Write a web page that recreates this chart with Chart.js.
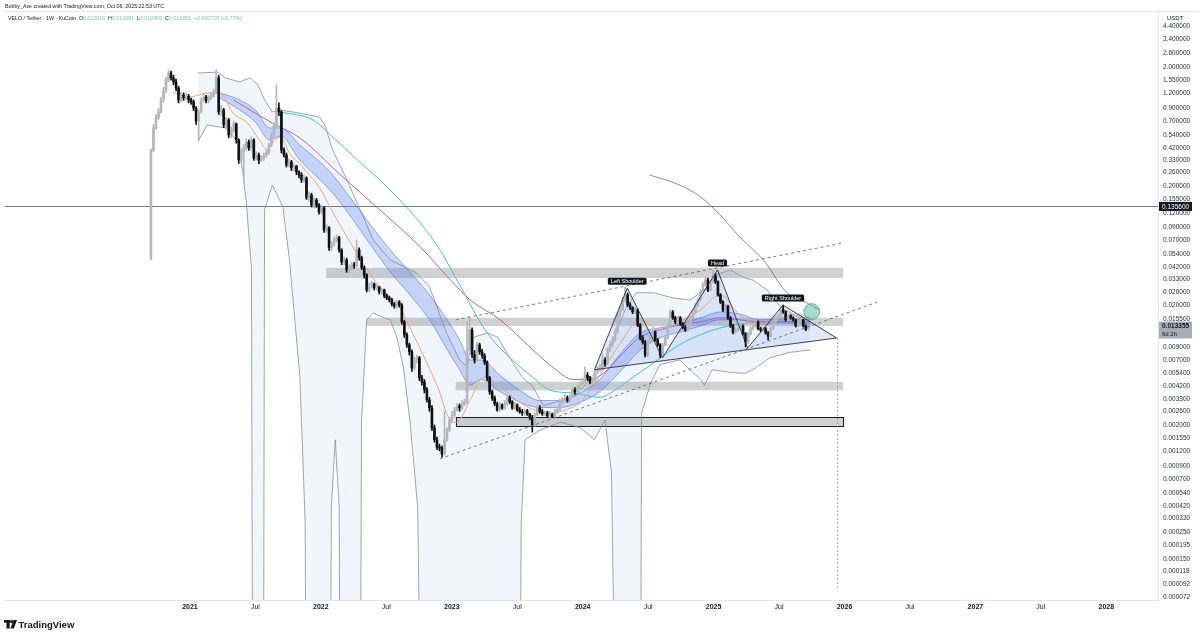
<!DOCTYPE html>
<html>
<head>
<meta charset="utf-8">
<title>VELO / Tether · 1W · KuCoin</title>
<script src="https://cdn.jsdelivr.net/npm/chart.js@4.4.1/dist/chart.umd.min.js"></script>
<style>
html, body { margin: 0; padding: 0; background: #fff; }
canvas { display: block; }
</style>
</head>
<body>
<canvas id="chart" width="1200" height="637"></canvas>
<script>
// weekly candles (x = decimal year of the week start)
var firstWeek = 2020.702;
var weekLen = 7 / 365.25;
var firstOpen = 0.05;

var closes = [
  0.403, 0.617, 0.748, 0.84, 1.06, 1.28, 1.56, 1.78, 1.62, 1.50,
  1.33, 1.06, 1.165, 1.10, 1.14, 1.06, 1.02, 0.905, 0.705, 0.84,
  1.06, 1.12, 1.04, 1.10, 1.165, 1.23, 1.62, 0.84, 0.872, 0.653,
  0.719, 0.538, 0.593, 0.666, 0.489, 0.332, 0.388, 0.419, 0.47, 0.419,
  0.489, 0.345, 0.366, 0.332, 0.345, 0.366, 0.388, 0.444, 0.538, 0.64,
  0.905, 0.84, 0.403, 0.366, 0.302, 0.32, 0.285, 0.296, 0.264, 0.249,
  0.226, 0.235, 0.16, 0.169, 0.139, 0.1535, 0.139, 0.122, 0.132, 0.0861,
  0.0895, 0.061, 0.0658, 0.071, 0.0738, 0.0585, 0.0465, 0.0483, 0.0398, 0.0414,
  0.0438, 0.043, 0.0585, 0.0502, 0.0414, 0.0361, 0.027, 0.0292, 0.0304, 0.0281,
  0.0287, 0.026, 0.027, 0.0241, 0.0232, 0.0223, 0.0206, 0.0198, 0.0214, 0.0202,
  0.0146, 0.01135, 0.00936, 0.0082, 0.006, 0.007, 0.0073, 0.00495, 0.00458, 0.00393,
  0.00324, 0.00277, 0.00189, 0.0015, 0.0013, 0.00128, 0.00114, 0.0015, 0.00181, 0.0022,
  0.00242, 0.00267, 0.00288, 0.00277, 0.003, 0.00312, 0.0085, 0.0125, 0.00772, 0.007,
  0.00936, 0.0082, 0.0076, 0.0067, 0.00495, 0.00378, 0.00337, 0.003, 0.00267, 0.00294,
  0.00277, 0.003, 0.00337, 0.00312, 0.00277, 0.00294, 0.00267, 0.00257, 0.00252, 0.00262,
  0.00247, 0.00229, 0.002, 0.00242, 0.00277, 0.00257, 0.00247, 0.00252, 0.00238, 0.00247,
  0.00233, 0.00257, 0.00267, 0.00312, 0.00324, 0.00337, 0.00318, 0.00343, 0.00393, 0.00378,
  0.00408, 0.0044, 0.00458, 0.00524, 0.00495, 0.00458, 0.00476, 0.00556, 0.00578, 0.006,
  0.007, 0.0065, 0.0085, 0.00936, 0.0103, 0.012, 0.01669, 0.01838, 0.0223, 0.0246,
  0.0202, 0.0191, 0.0177, 0.01838, 0.01377, 0.0107, 0.0099, 0.00772, 0.0099, 0.0107,
  0.012, 0.0103, 0.00936, 0.00772, 0.00936, 0.0107, 0.01377, 0.0177, 0.0158, 0.0146,
  0.0158, 0.014, 0.0132, 0.0125, 0.014, 0.0158, 0.0177, 0.0202, 0.0223, 0.026,
  0.0298, 0.0328, 0.027, 0.0316, 0.0354, 0.0316, 0.0246, 0.0214, 0.01838, 0.0198,
  0.0158, 0.0135, 0.012, 0.0125, 0.0128, 0.0135, 0.0116, 0.0099, 0.0116, 0.0128,
  0.0135, 0.0146, 0.0128, 0.0125, 0.0128, 0.0118, 0.0111, 0.0128, 0.0146, 0.0158,
  0.0164, 0.01838, 0.0177, 0.01516, 0.0164, 0.0158, 0.01516, 0.0135, 0.0146, 0.01516,
  0.0135, 0.012626, 0.013355
];

var highs = [
  0.41, 0.66, 0.80, 0.90, 1.12, 1.35, 1.65, 1.89, 1.85, 1.70,
  1.58, 1.38, 1.22, 1.22, 1.20, 1.18, 1.10, 1.06, 0.93, 0.87,
  1.10, 1.18, 1.16, 1.15, 1.22, 1.30, 1.89, 1.70, 0.95, 0.90,
  0.76, 0.74, 0.63, 0.70, 0.68, 0.50, 0.41, 0.45, 0.50, 0.49,
  0.52, 0.50, 0.39, 0.38, 0.36, 0.38, 0.40, 0.46, 0.56, 0.68,
  1.41, 1.0, 0.86, 0.42, 0.38, 0.34, 0.33, 0.31, 0.30, 0.27,
  0.26, 0.25, 0.24, 0.18, 0.175, 0.16, 0.158, 0.143, 0.137, 0.135,
  0.095, 0.092, 0.069, 0.075, 0.078, 0.076, 0.06, 0.051, 0.05, 0.044,
  0.046, 0.046, 0.071, 0.061, 0.052, 0.043, 0.037, 0.031, 0.032, 0.031,
  0.030, 0.029, 0.028, 0.0275, 0.025, 0.024, 0.023, 0.0212, 0.0222, 0.022,
  0.0208, 0.015, 0.0118, 0.0097, 0.0085, 0.0074, 0.0077, 0.0075, 0.0052, 0.0048,
  0.0041, 0.0034, 0.0029, 0.0020, 0.00158, 0.00138, 0.00133, 0.0026, 0.0019, 0.0023,
  0.0026, 0.0028, 0.0030, 0.0030, 0.0032, 0.0033, 0.0146, 0.0158, 0.0130, 0.0084,
  0.0099, 0.0097, 0.0086, 0.0079, 0.0069, 0.0051, 0.0039, 0.0035, 0.0031, 0.0031,
  0.0030, 0.0032, 0.0035, 0.0035, 0.0032, 0.0031, 0.0030, 0.0028, 0.0027, 0.0027,
  0.0027, 0.0025, 0.0024, 0.0025, 0.0029, 0.0029, 0.0027, 0.0026, 0.0026, 0.0026,
  0.0025, 0.0027, 0.0028, 0.0033, 0.0034, 0.0036, 0.0035, 0.0036, 0.0041, 0.0041,
  0.0043, 0.0046, 0.0049, 0.0061, 0.0055, 0.0051, 0.0050, 0.0058, 0.0062, 0.0064,
  0.0079, 0.0073, 0.0089, 0.0100, 0.0110, 0.0128, 0.0175, 0.0196, 0.0236, 0.0287,
  0.0255, 0.0212, 0.0196, 0.0192, 0.0188, 0.0141, 0.0112, 0.0102, 0.0103, 0.0112,
  0.0125, 0.0123, 0.0106, 0.0096, 0.0097, 0.0112, 0.0143, 0.0185, 0.0182, 0.0163,
  0.0164, 0.0162, 0.0144, 0.0136, 0.0145, 0.0164, 0.0184, 0.0210, 0.0232, 0.0272,
  0.0312, 0.0345, 0.0340, 0.0330, 0.0398, 0.0370, 0.0322, 0.0252, 0.0220, 0.0205,
  0.0202, 0.0162, 0.0139, 0.0131, 0.0133, 0.0140, 0.0138, 0.0119, 0.0120, 0.0133,
  0.0140, 0.0152, 0.0149, 0.0132, 0.0133, 0.0131, 0.0121, 0.0132, 0.0150, 0.0163,
  0.0170, 0.0190, 0.0202, 0.0180, 0.0169, 0.0168, 0.0161, 0.0154, 0.0150, 0.0156,
  0.0154, 0.0138, 0.013681
];

var lows = [
  0.048, 0.39, 0.60, 0.72, 0.82, 1.02, 1.22, 1.50, 1.55, 1.42,
  1.26, 1.00, 1.02, 1.05, 1.06, 1.00, 0.97, 0.86, 0.66, 0.49,
  0.82, 1.02, 1.00, 1.00, 1.06, 1.12, 1.20, 0.80, 0.78, 0.62,
  0.62, 0.51, 0.51, 0.57, 0.46, 0.31, 0.31, 0.213, 0.40, 0.40,
  0.40, 0.33, 0.33, 0.31, 0.32, 0.33, 0.35, 0.37, 0.43, 0.52,
  0.62, 0.78, 0.38, 0.35, 0.29, 0.29, 0.27, 0.27, 0.25, 0.235,
  0.215, 0.215, 0.155, 0.15, 0.134, 0.132, 0.133, 0.117, 0.118, 0.082,
  0.082, 0.058, 0.058, 0.063, 0.068, 0.056, 0.044, 0.044, 0.038, 0.038,
  0.040, 0.041, 0.042, 0.048, 0.040, 0.034, 0.026, 0.026, 0.028, 0.027,
  0.027, 0.025, 0.025, 0.0232, 0.0224, 0.0215, 0.0198, 0.019, 0.019, 0.0194,
  0.014, 0.0108, 0.0089, 0.0077, 0.0056, 0.0058, 0.0066, 0.0047, 0.0043, 0.0037,
  0.0031, 0.0026, 0.0018, 0.00143, 0.00124, 0.00121, 0.00107, 0.00111, 0.00145, 0.00175,
  0.0021, 0.0023, 0.0026, 0.0026, 0.0027, 0.0029, 0.0030, 0.0080, 0.0073, 0.0066,
  0.0068, 0.0078, 0.0072, 0.0064, 0.0047, 0.0036, 0.0032, 0.0029, 0.0026, 0.0026,
  0.0027, 0.0027, 0.0029, 0.0030, 0.0027, 0.0027, 0.0026, 0.0025, 0.0024, 0.0024,
  0.0024, 0.0022, 0.00174, 0.00195, 0.0024, 0.0025, 0.0024, 0.0024, 0.0023, 0.0023,
  0.0023, 0.0023, 0.0025, 0.0026, 0.0030, 0.0031, 0.0031, 0.0031, 0.0034, 0.0036,
  0.0037, 0.0040, 0.0043, 0.0045, 0.0047, 0.0044, 0.0044, 0.0046, 0.0054, 0.0056,
  0.0058, 0.0062, 0.0064, 0.0082, 0.0090, 0.0100, 0.0117, 0.0160, 0.0180, 0.0215,
  0.0196, 0.0185, 0.0171, 0.0172, 0.0133, 0.0103, 0.0095, 0.0074, 0.0075, 0.0096,
  0.0104, 0.0100, 0.0091, 0.0073, 0.0075, 0.0092, 0.0105, 0.0135, 0.0153, 0.0141,
  0.0142, 0.0136, 0.0128, 0.0121, 0.0122, 0.0137, 0.0154, 0.0172, 0.0196, 0.0218,
  0.0254, 0.0290, 0.0262, 0.0265, 0.0310, 0.0305, 0.0240, 0.0208, 0.0178, 0.0179,
  0.0153, 0.0131, 0.0116, 0.0117, 0.0121, 0.0125, 0.0113, 0.0090, 0.0096, 0.0113,
  0.0125, 0.0132, 0.0125, 0.0121, 0.0122, 0.0115, 0.0103, 0.0109, 0.0126, 0.0143,
  0.0155, 0.0161, 0.0172, 0.0148, 0.0149, 0.0154, 0.0148, 0.0132, 0.0133, 0.0143,
  0.0132, 0.0123, 0.012459
];

// Bollinger bands (upper / lower)
var bbUpX = [2021.06, 2021.21, 2021.27, 2021.38, 2021.46, 2021.52, 2021.57, 2021.63, 2021.69, 2021.84,
  2021.99, 2022.03, 2022.09, 2022.20, 2022.30, 2022.40, 2022.53, 2022.73, 2022.83, 2022.96,
  2023.06, 2023.12, 2023.15, 2023.27, 2023.35, 2023.44, 2023.54, 2023.62, 2023.70, 2023.83,
  2023.96, 2024.03, 2024.16, 2024.26, 2024.34, 2024.41, 2024.54, 2024.69, 2024.82, 2024.93,
  2025.01, 2025.13, 2025.24, 2025.30, 2025.41, 2025.51, 2025.64, 2025.74];
var bbUpY = [1.78, 1.81, 1.62, 1.50, 1.62, 1.41, 1.06, 0.84, 0.872, 0.82,
  0.76, 0.653, 0.403, 0.226, 0.127, 0.071, 0.0483, 0.0376, 0.0287, 0.0118,
  0.0070, 0.0061, 0.0107, 0.0118, 0.0109, 0.0074, 0.005, 0.0042, 0.0029, 0.0032,
  0.0036, 0.0045, 0.0066, 0.0125, 0.0202, 0.0256, 0.0256, 0.0232, 0.0223, 0.027,
  0.0361, 0.0398, 0.034, 0.0328, 0.027, 0.0195, 0.016, 0.0158];
// 0.000001 = band below the bottom of the scale
var bbLoX = [2021.06, 2021.13, 2021.27, 2021.37, 2021.40, 2021.43, 2021.47, 2021.48, 2021.56, 2021.57,
  2021.63, 2021.71, 2021.76, 2021.84, 2021.88, 2021.89, 2022.07, 2022.08, 2022.11, 2022.14,
  2022.15, 2022.30, 2022.31, 2022.35, 2022.40, 2022.47, 2022.53, 2022.58, 2022.63, 2022.68,
  2022.74, 2022.77, 2023.52, 2023.53, 2023.56, 2023.67, 2023.83, 2023.98, 2024.09, 2024.17,
  2024.22, 2024.26, 2024.44, 2024.45, 2024.52, 2024.59, 2024.74, 2024.90, 2024.93, 2024.99,
  2025.13, 2025.24, 2025.32, 2025.43, 2025.58, 2025.74];
var bbLoY = [0.47, 0.653, 0.617, 0.462, 0.274, 0.15, 0.04, 0.000001, 0.000001, 0.127,
  0.205, 0.134, 0.0483, 0.005, 0.0003, 0.000001, 0.000001, 0.0004, 0.0015, 0.0004,
  0.000001, 0.000001, 0.002, 0.0152, 0.0173, 0.016, 0.0152, 0.0109, 0.0061, 0.0022,
  0.0004, 0.000001, 0.000001, 0.00029, 0.0015, 0.0018, 0.0021, 0.0019, 0.0015, 0.0022,
  0.0008, 0.000001, 0.000001, 0.0025, 0.0045, 0.0064, 0.0070, 0.0048, 0.0043, 0.0058,
  0.0055, 0.0054, 0.006, 0.0073, 0.0081, 0.0085];

// moving averages
var orangeX = [2020.87, 2021.00, 2021.13, 2021.23, 2021.33, 2021.44, 2021.53, 2021.59, 2021.63, 2021.69,
  2021.76, 2021.86, 2021.99, 2022.09, 2022.20, 2022.32, 2022.45, 2022.60, 2022.70, 2022.81,
  2022.91, 2022.96, 2023.01, 2023.06, 2023.14, 2023.24, 2023.37, 2023.50, 2023.62, 2023.75,
  2023.88, 2024.00, 2024.13, 2024.28, 2024.44, 2024.59, 2024.74, 2024.90, 2025.05, 2025.20,
  2025.35, 2025.51, 2025.66, 2025.74];
var orangeY = [1.23, 1.12, 1.21, 1.21, 0.82, 0.677, 0.489, 0.403, 0.462, 0.518,
  0.38, 0.29, 0.194, 0.122, 0.0752, 0.0456, 0.0287, 0.0195, 0.0118, 0.0066,
  0.0037, 0.0025, 0.0021, 0.0022, 0.0032, 0.005, 0.0042, 0.0032, 0.0027, 0.0025,
  0.0027, 0.0032, 0.0052, 0.0094, 0.0152, 0.0125, 0.0146, 0.0184, 0.0246, 0.0167,
  0.0138, 0.0158, 0.0167, 0.0158];

var bandX = [2021.23, 2021.38, 2021.50, 2021.61, 2021.69, 2021.84, 2022.07, 2022.22, 2022.38, 2022.53,
  2022.68, 2022.83, 2022.99, 2023.06, 2023.14, 2023.22, 2023.37, 2023.52, 2023.67, 2023.83,
  2023.98, 2024.13, 2024.28, 2024.44, 2024.59, 2024.74, 2024.90, 2025.05, 2025.20, 2025.35,
  2025.51, 2025.74];
var bandTop = [1.21, 1.06, 0.872, 0.617, 0.617, 0.444, 0.264, 0.163, 0.0948, 0.0585,
  0.0383, 0.0246, 0.0138, 0.0103, 0.0070, 0.0070, 0.0052, 0.0039, 0.0032, 0.0032,
  0.0037, 0.0048, 0.0077, 0.0118, 0.013, 0.014, 0.0158, 0.0177, 0.017, 0.0152,
  0.0155, 0.0152];
var bandBot = [1.10, 0.872, 0.69, 0.489, 0.528, 0.332, 0.186, 0.115, 0.0645, 0.0383,
  0.0246, 0.0152, 0.0077, 0.0058, 0.0043, 0.0048, 0.0038, 0.0031, 0.0028, 0.0028,
  0.0031, 0.0038, 0.0055, 0.0085, 0.0107, 0.012, 0.0135, 0.0152, 0.0152, 0.0138,
  0.0143, 0.014];

var purpleX = [2021.33, 2021.63, 2021.84, 2022.15, 2022.45, 2022.76, 2022.99, 2023.14, 2023.37, 2023.62,
  2023.77, 2023.93, 2024.06, 2024.19, 2024.28, 2024.44, 2024.59, 2024.74, 2024.90, 2025.05,
  2025.20, 2025.35, 2025.51, 2025.74];
var purpleY = [1.06, 0.677, 0.508, 0.249, 0.127, 0.062, 0.0328, 0.0223, 0.0152, 0.0085,
  0.0061, 0.0048, 0.0048, 0.0058, 0.0074, 0.0109, 0.0125, 0.0138, 0.0146, 0.0158,
  0.0152, 0.0146, 0.0146, 0.0146];

var tealX = [2021.69, 2021.94, 2022.09, 2022.28, 2022.45, 2022.58, 2022.76, 2022.91, 2023.06, 2023.27,
  2023.44, 2023.62, 2023.75, 2023.93, 2024.13, 2024.23, 2024.36, 2024.54, 2024.74, 2025.00,
  2025.26, 2025.51, 2025.74];
var tealY = [0.84, 0.719, 0.518, 0.332, 0.226, 0.163, 0.0985, 0.0585, 0.0298, 0.0118,
  0.0074, 0.005, 0.0039, 0.0037, 0.0034, 0.0038, 0.0048, 0.0066, 0.0094, 0.0125,
  0.0143, 0.0146, 0.0146];

// falling grey line on the right
var fallX = [2024.51, 2024.74, 2024.90, 2025.05, 2025.20, 2025.32, 2025.41, 2025.51, 2025.58, 2025.70, 2025.81];
var fallY = [0.249, 0.205, 0.163, 0.115, 0.0752, 0.0564, 0.0438, 0.0298, 0.0246, 0.0214, 0.0184];

// drawings
var zoneFrom = [2022.04, 2022.35, 2023.03, 2023.03];
var zoneTo = [2025.99, 2025.99, 2025.99, 2025.99];
var zoneHi = [0.0414, 0.0158, 0.0046, 0.00233];
var zoneLo = [0.034, 0.0135, 0.0039, 0.00196];
var upperTrendX = [2023.03, 2025.99];
var upperTrendY = [0.0152, 0.067];
var lowerTrendX = [2022.91, 2026.25];
var lowerTrendY = [0.00104, 0.0214];
var hsX = [2024.09, 2024.34, 2024.61, 2025.03, 2025.26, 2025.53, 2025.94];
var hsY = [0.0058, 0.028, 0.0073, 0.0398, 0.0088, 0.0202, 0.0107];
var hsLabels = ['', 'Left Shoulder', '', 'Head', '', 'Right Shoulder', ''];
var levelPrice = 0.1356;
var projectionLow = 0.000082;
var circleX = 2025.75;
var circleY = 0.0178;
var lastPrice = 0.013355;

// axis ticks
var yTicks = [4.4, 3.4, 2.6, 2.0, 1.55, 1.2, 0.9, 0.7, 0.54, 0.42, 0.33, 0.26, 0.2, 0.155, 0.12,
  0.09, 0.07, 0.054, 0.042, 0.033, 0.026, 0.02, 0.0155, 0.009, 0.007, 0.0054, 0.0042, 0.0033,
  0.0026, 0.002, 0.00155, 0.0012, 0.0009, 0.0007, 0.00054, 0.00042, 0.00033, 0.00025, 0.000195,
  0.00015, 0.000118, 0.000092, 0.000072];
var xTicks = [2021, 2021.5, 2022, 2022.5, 2023, 2023.5, 2024, 2024.5, 2025, 2025.5, 2026, 2026.5, 2027, 2027.5, 2028];
var xLabels = ['2021', 'Jul', '2022', 'Jul', '2023', 'Jul', '2024', 'Jul', '2025', 'Jul', '2026', 'Jul', '2027', 'Jul', '2028'];

var FONT = "'Liberation Sans', Arial, sans-serif";
var UP = '#b4b6bc';
var DOWN = '#111111';

var weeks = closes.map(function (c, i) { return firstWeek + i * weekLen; });
var opens = closes.map(function (c, i) { return i === 0 ? firstOpen : closes[i - 1]; });

function pts(xs, ys) {
    return xs.map(function (x, i) { return { x: x, y: ys[i] }; });
}
function candleColor(ctx) {
    var i = ctx.dataIndex;
    return closes[i] >= opens[i] ? UP : DOWN;
}
function maLine(label, xs, ys, color, order) {
    return {
        type: 'line', label: label, data: pts(xs, ys), borderColor: color, borderWidth: 1,
        pointRadius: 0, cubicInterpolationMode: 'monotone', fill: false, order: order
    };
}

var datasets = [
    {
        type: 'bar', label: 'body', order: 0, grouped: false, barThickness: 2, minBarLength: 1,
        data: weeks.map(function (t, i) { return { x: t, y: [opens[i], closes[i]] }; }),
        backgroundColor: candleColor, borderWidth: 0
    },
    {
        type: 'bar', label: 'wick', order: 1, grouped: false, barThickness: 1,
        data: weeks.map(function (t, i) { return { x: t, y: [lows[i], highs[i]] }; }),
        backgroundColor: candleColor, borderWidth: 0
    },
    maLine('orange', orangeX, orangeY, '#f0a468', 2),
    maLine('purple', purpleX, purpleY, '#b35ec4', 3),
    maLine('teal', tealX, tealY, '#3fc3d2', 4),
    {
        type: 'line', label: 'band top', data: pts(bandX, bandTop), borderColor: 'rgba(74,110,214,0.7)',
        borderWidth: 0.8, pointRadius: 0, cubicInterpolationMode: 'monotone',
        fill: '+1', backgroundColor: 'rgba(88,128,232,0.3)', order: 5
    },
    {
        type: 'line', label: 'band bottom', data: pts(bandX, bandBot), borderColor: 'rgba(74,110,214,0.7)',
        borderWidth: 0.8, pointRadius: 0, cubicInterpolationMode: 'monotone', fill: false, order: 6
    },
    {
        type: 'line', label: 'fall', data: pts(fallX, fallY), borderColor: '#6b6e76',
        borderWidth: 0.8, pointRadius: 0, cubicInterpolationMode: 'monotone', fill: false, order: 7
    },
    {
        type: 'line', label: 'bb upper', data: pts(bbUpX, bbUpY), borderColor: '#8b8e96',
        borderWidth: 0.8, pointRadius: 0, tension: 0,
        fill: '+1', backgroundColor: 'rgba(41,120,230,0.065)', order: 8
    },
    {
        type: 'line', label: 'bb lower', data: pts(bbLoX, bbLoY), borderColor: '#8b8e96',
        borderWidth: 0.8, pointRadius: 0, tension: 0, fill: false, order: 9
    }
];

// drawings, header, price tags and logo
var drawings = {
    id: 'drawings',
    beforeDatasetsDraw: function (chart) {
        var ctx = chart.ctx, a = chart.chartArea;
        var px = function (v) { return chart.scales.x.getPixelForValue(v); };
        var py = function (v) { return chart.scales.y.getPixelForValue(v); };
        ctx.save();
        ctx.beginPath();
        ctx.rect(a.left, a.top, a.right - a.left, a.bottom - a.top);
        ctx.clip();

        // grey zones
        for (var i = 0; i < zoneFrom.length; i++) {
            var x0 = px(zoneFrom[i]), x1 = px(zoneTo[i]);
            var y0 = py(zoneHi[i]), y1 = py(zoneLo[i]);
            ctx.fillStyle = 'rgba(140,140,140,0.4)';
            ctx.fillRect(x0, y0, x1 - x0, y1 - y0);
            if (i === 3) {
                ctx.strokeStyle = '#1a1a1a';
                ctx.lineWidth = 1;
                ctx.strokeRect(Math.round(x0) + 0.5, Math.round(y0) + 0.5, Math.round(x1 - x0), Math.round(y1 - y0));
            }
        }

        // head & shoulders area
        ctx.beginPath();
        hsX.forEach(function (x, k) {
            if (k === 0) ctx.moveTo(px(x), py(hsY[k])); else ctx.lineTo(px(x), py(hsY[k]));
        });
        ctx.closePath();
        ctx.fillStyle = 'rgba(110,150,225,0.2)';
        ctx.fill();

        // horizontal level
        ctx.strokeStyle = '#7a7d85';
        ctx.lineWidth = 1;
        ctx.beginPath();
        var ly = Math.round(py(levelPrice)) + 0.5;
        ctx.moveTo(a.left, ly);
        ctx.lineTo(a.right, ly);
        ctx.stroke();
        ctx.restore();
    },
    afterDatasetsDraw: function (chart) {
        var ctx = chart.ctx, a = chart.chartArea;
        var px = function (v) { return chart.scales.x.getPixelForValue(v); };
        var py = function (v) { return chart.scales.y.getPixelForValue(v); };
        ctx.save();
        ctx.beginPath();
        ctx.rect(a.left, a.top, a.right - a.left, a.bottom - a.top);
        ctx.clip();

        // dashed trend lines
        ctx.strokeStyle = '#555860';
        ctx.lineWidth = 0.8;
        ctx.setLineDash([3, 3]);
        [[upperTrendX, upperTrendY], [lowerTrendX, lowerTrendY]].forEach(function (t) {
            ctx.beginPath();
            ctx.moveTo(px(t[0][0]), py(t[1][0]));
            ctx.lineTo(px(t[0][1]), py(t[1][1]));
            ctx.stroke();
        });
        // projection down from the pattern end
        ctx.strokeStyle = '#9a9da5';
        ctx.setLineDash([2, 2]);
        ctx.beginPath();
        var vx = Math.round(px(hsX[6])) + 0.5;
        ctx.moveTo(vx, py(hsY[6]));
        ctx.lineTo(vx, py(projectionLow));
        ctx.stroke();
        ctx.setLineDash([]);

        // head & shoulders outline
        ctx.strokeStyle = '#2b2e36';
        ctx.lineWidth = 0.9;
        ctx.beginPath();
        hsX.forEach(function (x, k) {
            if (k === 0) ctx.moveTo(px(x), py(hsY[k])); else ctx.lineTo(px(x), py(hsY[k]));
        });
        ctx.stroke();
        ctx.beginPath();
        ctx.moveTo(px(hsX[0]), py(hsY[0]));
        ctx.lineTo(px(hsX[6]), py(hsY[6]));
        ctx.stroke();

        // labels
        ctx.font = '5.5px ' + FONT;
        ctx.textAlign = 'center';
        ctx.textBaseline = 'middle';
        hsLabels.forEach(function (txt, k) {
            if (!txt) return;
            var cx = px(hsX[k]), cy = py(hsY[k]) - 7;
            var w = ctx.measureText(txt).width + 6;
            ctx.fillStyle = '#131722';
            ctx.beginPath();
            ctx.roundRect(cx - w / 2, cy - 3.5, w, 7, 1.5);
            ctx.fill();
            ctx.fillStyle = '#ffffff';
            ctx.fillText(txt, cx, cy + 0.3);
        });

        // green circle
        ctx.beginPath();
        ctx.arc(px(circleX), py(circleY), 8, 0, Math.PI * 2);
        ctx.fillStyle = 'rgba(92,190,160,0.55)';
        ctx.fill();
        ctx.strokeStyle = 'rgba(60,170,140,0.9)';
        ctx.lineWidth = 0.8;
        ctx.stroke();
        ctx.restore();
    },
    afterDraw: function (chart) {
        var ctx = chart.ctx, a = chart.chartArea;
        var py = function (v) { return chart.scales.y.getPixelForValue(v); };
        ctx.save();

        // frame
        ctx.strokeStyle = '#e3e5ea';
        ctx.lineWidth = 1;
        ctx.beginPath();
        ctx.moveTo(a.left, a.top - 0.5);
        ctx.lineTo(1199, a.top - 0.5);
        ctx.stroke();

        // header
        ctx.textAlign = 'left';
        ctx.textBaseline = 'middle';
        ctx.fillStyle = '#131722';
        ctx.font = '5.3px ' + FONT;
        ctx.fillText('Bobby_Ave created with TradingView.com, Oct 06, 2025 22:53 UTC', 5, 6.5);

        var parts = [
            ['VELO / Tether · 1W · KuCoin  ', '#131722'],
            ['O', '#131722'], ['0.012616  ', '#7cc6b2'],
            ['H', '#131722'], ['0.013681  ', '#7cc6b2'],
            ['L', '#131722'], ['0.012459  ', '#7cc6b2'],
            ['C', '#131722'], ['0.013355  ', '#7cc6b2'],
            ['+0.000729 (+5.77%)', '#7cc6b2']
        ];
        var hx = 8;
        parts.forEach(function (p) {
            ctx.fillStyle = p[1];
            ctx.fillText(p[0], hx, 19);
            hx += ctx.measureText(p[0]).width;
        });
        ctx.fillStyle = '#131722';
        ctx.font = '6px ' + FONT;
        ctx.fillText('USDT', 1167, 18);

        // level tag
        var ly = py(levelPrice);
        ctx.fillStyle = '#131722';
        ctx.fillRect(1159, ly - 4.5, 33, 9);
        ctx.fillStyle = '#ffffff';
        ctx.font = '6.5px ' + FONT;
        ctx.fillText(levelPrice.toFixed(6), 1162, ly + 0.3);

        // last price tag
        var cy = py(lastPrice);
        ctx.fillStyle = '#a9acb6';
        ctx.fillRect(1159, cy - 5, 33, 17);
        ctx.fillStyle = '#131722';
        ctx.font = 'bold 6.5px ' + FONT;
        ctx.fillText(lastPrice.toFixed(6), 1162, cy);
        ctx.font = '6px ' + FONT;
        ctx.fillText('6d 2h', 1162, cy + 7.5);

        // logo
        ctx.fillStyle = '#131722';
        ctx.fillRect(4, 620, 6, 2.6);
        ctx.fillRect(6.5, 620, 3.2, 8.5);
        ctx.beginPath();
        ctx.arc(11.6, 621.6, 1.6, 0, Math.PI * 2);
        ctx.fill();
        ctx.beginPath();
        ctx.moveTo(13.6, 620);
        ctx.lineTo(17, 620);
        ctx.lineTo(13.8, 628.5);
        ctx.lineTo(10.4, 628.5);
        ctx.closePath();
        ctx.fill();
        ctx.font = '600 9.5px ' + FONT;
        ctx.textBaseline = 'alphabetic';
        ctx.fillText('TradingView', 18.5, 628);
        ctx.restore();
    }
};

var options = {
    responsive: false,
    animation: false,
    events: [],
    layout: { padding: { left: 5, top: 12, right: 0, bottom: 0 } },
    scales: {
        x: {
            type: 'linear',
            min: 2019.587,
            max: 2028.395,
            offset: false,
            bounds: 'data',
            grid: { display: false, drawTicks: false },
            border: { display: true, color: '#e3e5ea' },
            afterBuildTicks: function (scale) {
                scale.ticks = xTicks.map(function (v) { return { value: v }; });
            },
            afterFit: function (scale) { scale.height = 37; },
            ticks: {
                autoSkip: false,
                maxRotation: 0,
                padding: 3,
                color: '#131722',
                font: function (ctx) {
                    return { family: FONT, size: 7, weight: ctx.index % 2 === 0 ? 'bold' : 'normal' };
                },
                callback: function (value, index) { return xLabels[index]; }
            }
        },
        y: {
            type: 'logarithmic',
            position: 'right',
            min: 0.0000681,
            max: 5.78,
            bounds: 'data',
            grid: { display: false, drawTicks: false },
            border: { display: true, color: '#e3e5ea' },
            afterBuildTicks: function (scale) {
                scale.ticks = yTicks.map(function (v) { return { value: v }; });
            },
            afterFit: function (scale) { scale.width = 42; },
            ticks: {
                autoSkip: false,
                padding: 5,
                color: '#2a2e39',
                font: { family: FONT, size: 6.5 },
                callback: function (value) { return Number(value).toFixed(6); }
            }
        }
    },
    plugins: {
        legend: { display: false },
        tooltip: { enabled: false }
    }
};

var ctx = document.getElementById('chart').getContext('2d');
var chart = new Chart(ctx, {
    type: 'bar',
    data: { datasets: datasets },
    options: options,
    plugins: [drawings]
});
</script>
</body>
</html>
